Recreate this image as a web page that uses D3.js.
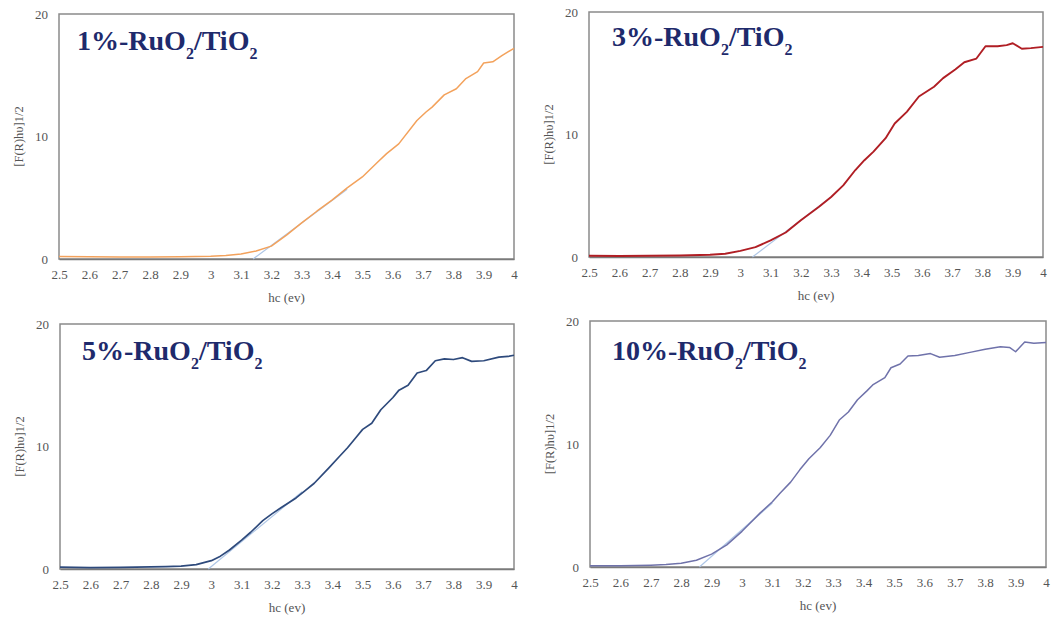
<!DOCTYPE html>
<html lang="en">
  <head>
    <meta charset="UTF-8" />
    <title>Tauc plots RuO2/TiO2</title>
    <script src="https://d3js.org/d3.v7.min.js"></script>
    <style>
      body { margin: 0; background: #fff; }
      text { font-family: 'Liberation Serif', 'Times New Roman', serif; }
    </style>
  </head>
  <body>
    <svg width="1060" height="621"></svg>
    <script>
      // data
      var xTicks = [2.5, 2.6, 2.7, 2.8, 2.9, 3, 3.1, 3.2, 3.3, 3.4, 3.5, 3.6, 3.7, 3.8, 3.9, 4]
      var yTicks = [0, 10, 20]

      var ev1 = [2.5, 2.6, 2.7, 2.8, 2.9, 3.0, 3.05, 3.1, 3.15, 3.2, 3.25, 3.3, 3.35, 3.4, 3.45, 3.5, 3.55, 3.58, 3.62, 3.68, 3.71, 3.73, 3.77, 3.81, 3.84, 3.88, 3.9, 3.93, 3.96, 4.0]
      var f1 = [0.2, 0.18, 0.17, 0.17, 0.18, 0.22, 0.28, 0.4, 0.65, 1.05, 1.95, 2.95, 3.9, 4.8, 5.8, 6.7, 7.9, 8.6, 9.4, 11.3, 12.0, 12.4, 13.4, 13.9, 14.7, 15.3, 16.0, 16.1, 16.6, 17.2]

      var ev3 = [2.5, 2.6, 2.7, 2.8, 2.9, 2.95, 3.0, 3.05, 3.1, 3.15, 3.2, 3.26, 3.3, 3.34, 3.38, 3.41, 3.44, 3.48, 3.51, 3.55, 3.59, 3.64, 3.67, 3.71, 3.74, 3.78, 3.81, 3.85, 3.88, 3.9, 3.93, 3.96, 4.0]
      var f3 = [0.1, 0.08, 0.1, 0.12, 0.18, 0.27, 0.5, 0.8, 1.35, 2.0, 3.0, 4.1, 4.9, 5.85, 7.1, 7.9, 8.6, 9.7, 10.9, 11.85, 13.1, 13.9, 14.6, 15.3, 15.9, 16.2, 17.2, 17.2, 17.3, 17.45, 17.0, 17.05, 17.15]

      var ev5 = [2.5, 2.6, 2.7, 2.8, 2.85, 2.9, 2.95, 3.0, 3.03, 3.06, 3.1, 3.13, 3.17, 3.2, 3.23, 3.28, 3.31, 3.34, 3.39, 3.42, 3.45, 3.48, 3.5, 3.53, 3.56, 3.6, 3.62, 3.65, 3.68, 3.71, 3.74, 3.77, 3.8, 3.83, 3.86, 3.9, 3.95, 3.98, 4.0]
      var f5 = [0.15, 0.12, 0.13, 0.17, 0.2, 0.24, 0.36, 0.68, 1.05, 1.55, 2.35, 3.0, 3.95, 4.5, 5.0, 5.8, 6.4, 7.0, 8.3, 9.1, 9.9, 10.8, 11.4, 11.9, 13.0, 14.0, 14.6, 15.0, 16.0, 16.2, 17.0, 17.15, 17.1, 17.25, 16.95, 17.0, 17.3, 17.35, 17.45]

      var ev10 = [2.5, 2.6, 2.7, 2.75, 2.8, 2.85, 2.9, 2.95, 3.0, 3.06, 3.1, 3.125, 3.16, 3.19, 3.22, 3.257, 3.29, 3.32, 3.35, 3.38, 3.41, 3.43, 3.47, 3.49, 3.52, 3.546, 3.58, 3.62, 3.65, 3.7, 3.75, 3.8, 3.85, 3.88, 3.9, 3.93, 3.96, 4.0]
      var f10 = [0.1, 0.1, 0.15, 0.2, 0.3, 0.55, 1.05, 1.8, 2.9, 4.4, 5.3, 6.0, 6.9, 7.9, 8.8, 9.7, 10.7, 11.95, 12.6, 13.6, 14.3, 14.8, 15.4, 16.2, 16.5, 17.15, 17.2, 17.35, 17.05, 17.2, 17.45, 17.7, 17.9, 17.85, 17.5, 18.3, 18.2, 18.25]

      // band-gap extrapolation lines [ev, value]
      var tan1 = [[3.14, 0], [3.45, 5.7]]
      var tan3 = [[3.04, 0], [3.3, 4.9]]
      var tan5 = [[2.99, 0], [3.3, 6.3]]
      var tan10 = [[2.86, 0], [3.1, 5.2]]

      var labels = ['1%', '3%', '5%', '10%']

      var panels = [
        { label: labels[0], ev: ev1, f: f1, tan: tan1, color: '#f3a25c', width: 1.5, box: [59, 14, 514, 259], tx: 18, ty: 36 },
        { label: labels[1], ev: ev3, f: f3, tan: tan3, color: '#b01e24', width: 1.9, box: [589, 12, 1043, 257], tx: 23, ty: 34 },
        { label: labels[2], ev: ev5, f: f5, tan: tan5, color: '#2e4a7c', width: 1.7, box: [60, 324, 514, 569], tx: 22, ty: 36 },
        { label: labels[3], ev: ev10, f: f10, tan: tan10, color: '#6f72aa', width: 1.5, box: [590, 321, 1046, 567], tx: 22, ty: 39 }
      ]

      var serif = "'Liberation Serif', 'Times New Roman', serif"
      var svg = d3.select('svg')

      panels.forEach(function(p) {
        var x = d3.scaleLinear().domain([2.5, 4]).range([p.box[0], p.box[2]])
        var y = d3.scaleLinear().domain([0, 20]).range([p.box[3], p.box[1]])
        var g = svg.append('g')

        // frame
        g.append('rect')
          .attr('x', p.box[0])
          .attr('y', p.box[1])
          .attr('width', p.box[2] - p.box[0])
          .attr('height', p.box[3] - p.box[1])
          .attr('fill', 'none')
          .attr('stroke', '#8a8a8a')
          .attr('stroke-width', 1.5)

        var xAxis = g.append('g')
          .attr('transform', 'translate(0,' + p.box[3] + ')')
          .call(d3.axisBottom(x).tickValues(xTicks).tickSize(0).tickPadding(11)
            .tickFormat(function(d) { return +d.toFixed(1) }))
          .attr('font-family', serif)
          .attr('font-size', 13)
        xAxis.select('.domain').attr('stroke', '#7a7a7a').attr('stroke-width', 1.5)
        xAxis.selectAll('text').attr('fill', '#555')

        var yAxis = g.append('g')
          .attr('transform', 'translate(' + p.box[0] + ',0)')
          .call(d3.axisLeft(y).tickValues(yTicks).tickSize(0).tickPadding(11))
          .attr('font-family', serif)
          .attr('font-size', 13)
        yAxis.select('.domain').remove()
        yAxis.selectAll('text').attr('fill', '#555')

        // axis titles
        g.append('text')
          .attr('x', (p.box[0] + p.box[2]) / 2)
          .attr('y', p.box[3] + 43)
          .attr('text-anchor', 'middle')
          .attr('font-size', 13)
          .attr('fill', '#555')
          .text('hc (ev)')

        g.append('text')
          .attr('transform', 'translate(' + (p.box[0] - 36) + ',' + ((p.box[1] + p.box[3]) / 2) + ') rotate(-90)')
          .attr('text-anchor', 'middle')
          .attr('font-size', 12.5)
          .attr('fill', '#555')
          .text('[F(R)h\u03c5]1/2')

        // extrapolation line
        g.append('line')
          .attr('x1', x(p.tan[0][0])).attr('y1', y(p.tan[0][1]))
          .attr('x2', x(p.tan[1][0])).attr('y2', y(p.tan[1][1]))
          .attr('stroke', '#aec6e6')
          .attr('stroke-width', 1.2)

        // curve
        var line = d3.line()
          .x(function(d) { return x(d[0]) })
          .y(function(d) { return y(d[1]) })
        g.append('path')
          .attr('d', line(d3.zip(p.ev, p.f)))
          .attr('fill', 'none')
          .attr('stroke', p.color)
          .attr('stroke-width', p.width)
          .attr('stroke-linejoin', 'round')

        // title label with subscripts
        var t = g.append('text')
          .attr('x', p.box[0] + p.tx)
          .attr('y', p.box[1] + p.ty)
          .attr('font-size', 28)
          .attr('font-weight', 'bold')
          .attr('fill', '#1e2a6c')
        t.append('tspan').text(p.label + '-RuO')
        t.append('tspan').attr('font-size', 16).attr('dy', 9).text('2')
        t.append('tspan').attr('dy', -9).text('/TiO')
        t.append('tspan').attr('font-size', 16).attr('dy', 9).text('2')
      })
    </script>
  </body>
</html>
